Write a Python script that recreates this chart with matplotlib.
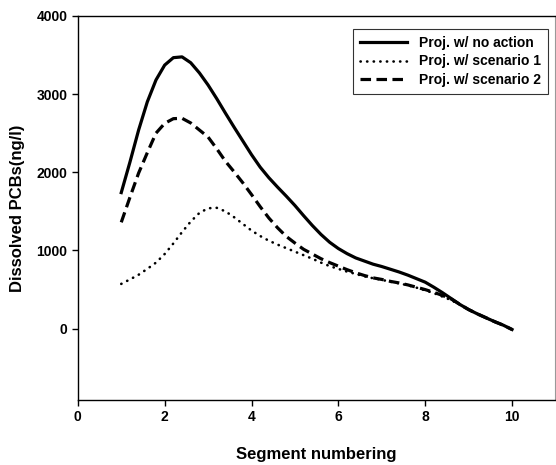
import numpy as np
import matplotlib
matplotlib.use("Agg")
import matplotlib.pyplot as plt

plt.rcParams["font.family"] = ["Liberation Sans", "DejaVu Sans"]
plt.rcParams["font.weight"] = "bold"

# segment position along the river and projected dissolved PCBs (ng/l)
segment = [1.0, 1.2, 1.4, 1.6, 1.8, 2.0, 2.2, 2.4, 2.6, 2.8, 3.0, 3.2, 3.4,
           3.6, 3.8, 4.0, 4.2, 4.4, 4.6, 4.8, 5.0, 5.2, 5.4, 5.6, 5.8, 6.0,
           6.2, 6.4, 6.6, 6.8, 7.0, 7.2, 7.4, 7.6, 7.8, 8.0, 8.2, 8.4, 8.6,
           8.8, 9.0, 9.2, 9.4, 9.6, 9.8, 10.0]

no_action = [1740, 2130, 2540, 2900, 3180, 3370, 3465, 3475, 3400, 3270,
             3115, 2940, 2755, 2575, 2400, 2225, 2065, 1930, 1810, 1695,
             1575, 1445, 1320, 1205, 1105, 1025, 960, 905, 865, 825, 795,
             760, 725, 685, 640, 595, 530, 460, 385, 310, 245, 190, 140, 90,
             45, -10]

scenario1 = [573, 630, 690, 765, 845, 955, 1090, 1235, 1370, 1480, 1540,
             1545, 1500, 1425, 1340, 1255, 1185, 1125, 1075, 1030, 985, 940,
             895, 845, 800, 765, 730, 700, 670, 645, 625, 600, 580, 555, 525,
             490, 455, 410, 365, 305, 245, 190, 140, 90, 45, -10]

scenario2 = [1360, 1680, 1990, 2250, 2500, 2625, 2685, 2690, 2630, 2540,
             2450, 2300, 2140, 2005, 1865, 1715, 1560, 1415, 1290, 1180,
             1095, 1015, 955, 895, 845, 800, 755, 715, 680, 650, 630, 605,
             585, 560, 530, 500, 465, 425, 380, 310, 245, 190, 140, 90, 45,
             -10]

fig = plt.figure(figsize=(5.56, 4.65), dpi=100)
ax = fig.add_axes([0.140, 0.140, 0.859, 0.826])

ax.plot(segment, no_action, color="black", linewidth=2.3, linestyle="-",
        solid_joinstyle="round", label="Proj. w/ no action")
ax.plot(segment, scenario1, color="black", linewidth=1.9, linestyle=(0, (0.1, 2.4)),
        dash_capstyle="round", label="Proj. w/ scenario 1")
ax.plot(segment, scenario2, color="black", linewidth=2.3, linestyle=(0, (3.3, 1.7)),
        label="Proj. w/ scenario 2")

ax.set_xlim(0, 11)
ax.set_ylim(-910, 4000)
ax.set_xticks([0, 2, 4, 6, 8, 10])
ax.set_yticks([0, 1000, 2000, 3000, 4000])
ax.tick_params(direction="out", length=4, width=1, labelsize=10,
               top=False, right=False)
for lab in ax.get_xticklabels() + ax.get_yticklabels():
    lab.set_fontweight("bold")

ax.set_xlabel("Segment numbering", fontsize=12, fontweight="bold", labelpad=16)
ax.set_ylabel("Dissolved PCBs(ng/l)", fontsize=12, fontweight="bold", labelpad=8)

for side in ["left", "bottom", "top"]:
    ax.spines[side].set_linewidth(1.0)
ax.spines["right"].set_color("#999999")
ax.spines["right"].set_linewidth(0.8)

leg = ax.legend(loc="upper right", fontsize=10, frameon=True, fancybox=False,
                edgecolor="black", handlelength=3.4, borderpad=0.5,
                labelspacing=0.3, handletextpad=0.8,
                bbox_to_anchor=(0.998, 0.983))
leg.get_frame().set_linewidth(0.8)
for t in leg.get_texts():
    t.set_fontweight("bold")

fig.savefig("out.png", dpi=100)
